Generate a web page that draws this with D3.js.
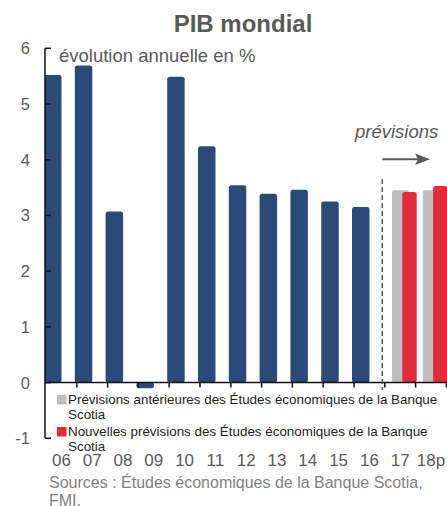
<!doctype html>
<html>
<head>
<meta charset="utf-8">
<script src="https://d3js.org/d3.v7.min.js"></script>
<style>
  body { margin: 0; background: #fff; }
  text { font-family: "Liberation Sans", Arial, sans-serif; }
</style>
</head>
<body>
<script>

// chart values
var categories = ["06", "07", "08", "09", "10", "11", "12", "13", "14", "15", "16", "17", "18p"];
var historical = [5.52, 5.69, 3.07, -0.10, 5.49, 4.24, 3.54, 3.39, 3.46, 3.25, 3.15, null, null];
var previous   = [null, null, null, null, null, null, null, null, null, null, null, 3.45, 3.45];
var revised    = [null, null, null, null, null, null, null, null, null, null, null, 3.42, 3.53];
var yTicks = [-1, 0, 1, 2, 3, 4, 5, 6];

var legendLabels = [
    ["Prévisions antérieures des Études économiques de la Banque", "Scotia"],
    ["Nouvelles prévisions des Études économiques de la Banque", "Scotia"]
];

var width = 447, height = 506;

var svg = d3.select("body").append("svg")
    .attr("width", width)
    .attr("height", height);

var x = d3.scaleBand().domain(categories).range([46, 446.4]).padding(0);
var y = d3.scaleLinear().domain([-1, 6]).range([438.3, 48.3]);

var blue = "#2a4b7a", grey = "#bebec0", red = "#e12d3b", textGrey = "#595959";

// title + subtitle
svg.append("text")
    .attr("x", 243).attr("y", 32)
    .attr("text-anchor", "middle")
    .attr("font-size", "24px")
    .attr("font-weight", "bold")
    .attr("fill", textGrey)
    .text("PIB mondial");

svg.append("text")
    .attr("x", 59).attr("y", 62)
    .attr("font-size", "18.5px")
    .attr("fill", textGrey)
    .text("évolution annuelle en %");

// bars
function bars(values, cls, color, offset, w) {
    svg.selectAll("." + cls)
        .data(categories.map(function(c, i) { return {cat: c, v: values[i]}; })
                        .filter(function(d) { return d.v != null; }))
        .enter().append("rect")
        .attr("class", cls)
        .attr("x", function(d) { return x(d.cat) + offset; })
        .attr("y", function(d) { return y(Math.max(0, d.v)); })
        .attr("width", w)
        .attr("height", function(d) { return Math.abs(y(d.v) - y(0)); })
        .attr("rx", 2.5)
        .attr("fill", color);
}
bars(historical, "hist", blue, -2, 17.5);
bars(previous, "prev", grey, 7.2, 17);
bars(revised, "rev", red, 17.5, 14.4);

// cover the part of the first bar left of the axis
svg.append("rect").attr("x", 0).attr("y", 40).attr("width", 45).attr("height", 400).attr("fill", "#fff");

// y axis
svg.append("line")
    .attr("x1", 45).attr("x2", 45)
    .attr("y1", y(6)).attr("y2", y(-1))
    .attr("stroke", "#111").attr("stroke-width", 1.5);

svg.selectAll(".ytick")
    .data(yTicks).enter().append("line")
    .attr("x1", 45).attr("x2", 51)
    .attr("y1", function(d) { return y(d); })
    .attr("y2", function(d) { return y(d); })
    .attr("stroke", "#111").attr("stroke-width", 1.5);

svg.selectAll(".ylab")
    .data(yTicks).enter().append("text")
    .attr("x", 30)
    .attr("y", function(d) { return y(d); })
    .attr("dy", "0.36em")
    .attr("text-anchor", "end")
    .attr("font-size", "16.5px")
    .attr("fill", textGrey)
    .text(function(d) { return d; });

// zero line with category ticks
svg.append("line")
    .attr("x1", 45).attr("x2", width)
    .attr("y1", y(0)).attr("y2", y(0))
    .attr("stroke", "#111").attr("stroke-width", 1.5);

svg.selectAll(".xtick")
    .data(categories.slice(1).concat(["end"])).enter().append("line")
    .attr("x1", function(d, i) { return x.range()[0] + (i + 1) * x.step(); })
    .attr("x2", function(d, i) { return x.range()[0] + (i + 1) * x.step(); })
    .attr("y1", y(0)).attr("y2", y(0) + 5)
    .attr("stroke", "#111").attr("stroke-width", 1.5);

// forecast separator and arrow
var sepX = x("17") - 2.5;
svg.append("line")
    .attr("x1", sepX).attr("x2", sepX)
    .attr("y1", 179).attr("y2", 390)
    .attr("stroke", "#555").attr("stroke-width", 1.5)
    .attr("stroke-dasharray", "5,3");

svg.append("line")
    .attr("x1", sepX).attr("x2", 418)
    .attr("y1", 159.3).attr("y2", 159.3)
    .attr("stroke", textGrey).attr("stroke-width", 2);
svg.append("path")
    .attr("d", "M430,159.3 L415,153.5 L418,159.3 L415,165 Z")
    .attr("fill", textGrey);

svg.append("text")
    .attr("x", 355).attr("y", 138)
    .attr("font-size", "18.5px")
    .attr("font-style", "italic")
    .attr("fill", textGrey)
    .text("prévisions");

// legend
var legendColors = [grey, red];
var legend = svg.selectAll(".legend")
    .data(legendLabels).enter().append("g")
    .attr("transform", function(d, i) { return "translate(57," + (395 + i * 32) + ")"; });

legend.append("rect")
    .attr("width", 9.5).attr("height", 9.5)
    .attr("fill", function(d, i) { return legendColors[i]; });

legend.append("text")
    .attr("x", 11).attr("y", 9)
    .attr("font-size", "13.4px")
    .attr("fill", "#222")
    .selectAll("tspan")
    .data(function(d) { return d; }).enter().append("tspan")
    .attr("x", 11)
    .attr("dy", function(d, i) { return i ? 14.5 : 0; })
    .text(function(d) { return d; });

// category labels
svg.selectAll(".xlab")
    .data(categories).enter().append("text")
    .attr("x", function(d) { return x(d) + x.bandwidth() / 2; })
    .attr("y", 466)
    .attr("text-anchor", "middle")
    .attr("font-size", "17px")
    .attr("fill", textGrey)
    .text(function(d) { return d; });

// sources
svg.append("text")
    .attr("x", 49).attr("y", 488)
    .attr("font-size", "16px")
    .attr("fill", "#7f7f7f")
    .selectAll("tspan")
    .data(["Sources : Études économiques de la Banque Scotia,", "FMI."]).enter().append("tspan")
    .attr("x", 49)
    .attr("dy", function(d, i) { return i ? 17.5 : 0; })
    .text(function(d) { return d; });

</script>
</body>
</html>
